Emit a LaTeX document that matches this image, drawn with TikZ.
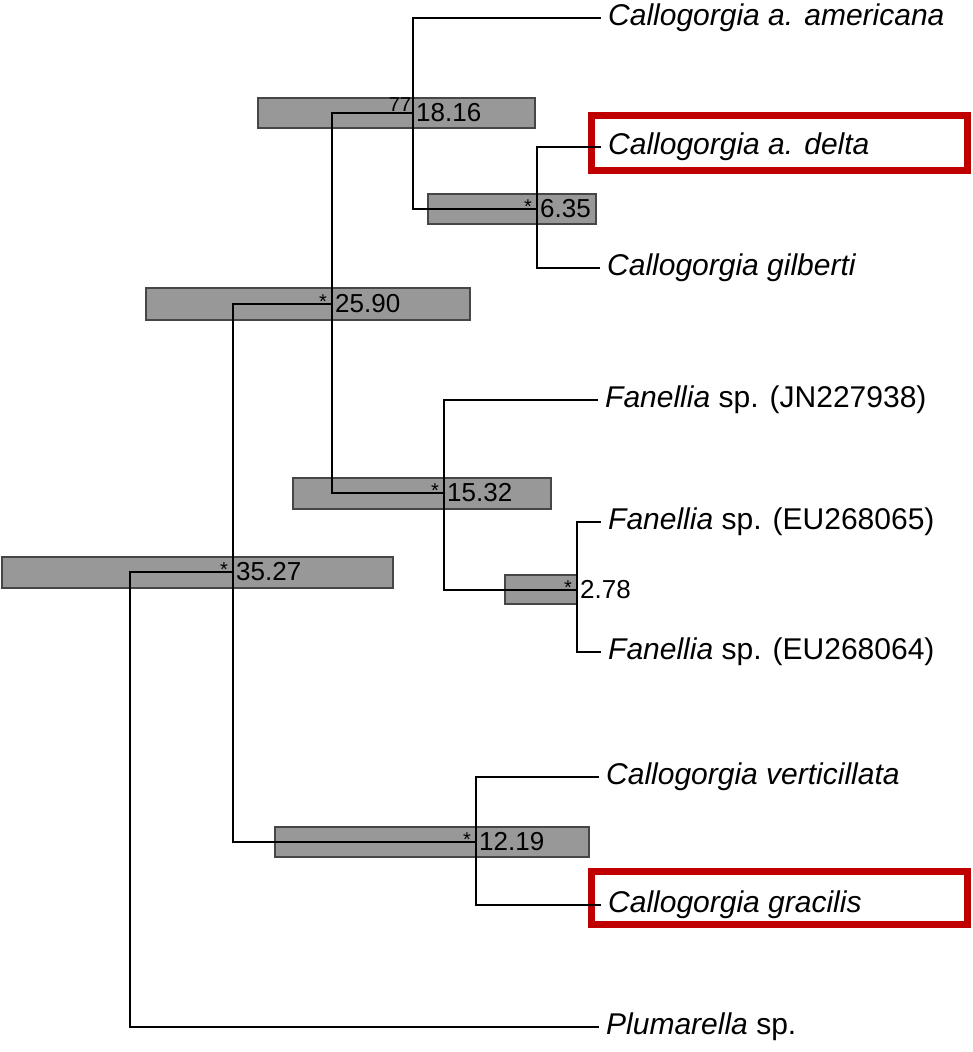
\documentclass[tikz,border=0pt]{standalone}
\usepackage{fontspec}
\setmainfont{Liberation Sans}
\definecolor{barfill}{RGB}{152,152,152}
\definecolor{barline}{RGB}{70,70,70}
\definecolor{boxred}{RGB}{192,0,0}
\begin{document}
\begin{tikzpicture}[x=1pt,y=-1pt,
  branch/.style={line width=2.8pt,line cap=rect},
  hpd/.style={fill=barfill,draw=barline,line width=1.2pt},
  hilite/.style={draw=boxred,line width=7pt},
  leaf/.style={anchor=west,inner ysep=0pt,inner xsep=8pt,font=\fontsize{30}{34}\selectfont},
  age/.style={anchor=west,inner sep=0pt,xshift=3pt,font=\fontsize{26}{30}\selectfont},
  supp/.style={inner sep=0pt,font=\fontsize{20}{22}\selectfont}]
\useasboundingbox (0,0) rectangle (973,1052);
% node positions
\coordinate (root) at (130,572);
\coordinate (n3527) at (233,572);
\coordinate (n2590) at (332,304);
\coordinate (n1816) at (413,113);
\coordinate (n635) at (537,209);
\coordinate (n1532) at (444,493);
\coordinate (n278) at (577,590);
\coordinate (n1219) at (476,842);
% HPD bars
\draw[hpd] (258,98) rectangle (535,128);
\draw[hpd] (428,194) rectangle (596,224);
\draw[hpd] (146,288) rectangle (470,320);
\draw[hpd] (293,478) rectangle (551,509);
\draw[hpd] (2,557) rectangle (393,588);
\draw[hpd] (505,575) rectangle (577,604);
\draw[hpd] (275,827) rectangle (589,857);
% leaves
\node[leaf] (amer) at (600,18) {\textit{Callogorgia a. americana}};
\node[leaf] (delta) at (600,147) {\textit{Callogorgia a. delta}};
\node[leaf] (gilb) at (599,268) {\textit{Callogorgia gilberti}};
\node[leaf] (jn) at (597,400) {\textit{Fanellia} sp. (JN227938)};
\node[leaf] (eu65) at (600,522) {\textit{Fanellia} sp. (EU268065)};
\node[leaf] (eu64) at (600,652) {\textit{Fanellia} sp. (EU268064)};
\node[leaf] (vert) at (598,777) {\textit{Callogorgia verticillata}};
\node[leaf] (grac) at (600,905) {\textit{Callogorgia gracilis}};
\node[leaf] (plum) at (598,1027) {\textit{Plumarella} sp.};
% highlight boxes
\draw[hilite] (591.5,115.5) rectangle (967.5,170.5);
\draw[hilite] (591.5,871.5) rectangle (967.5,924.5);
% branches
\draw[branch] (n3527) -| (root) |- (plum.west);
\draw[branch] (n2590) -| (n3527) |- (n1219);
\draw[branch] (n1816) -| (n2590) |- (n1532);
\draw[branch] (amer.west) -| (n1816) |- (n635);
\draw[branch] (delta.west) -| (n635) |- (gilb.west);
\draw[branch] (jn.west) -| (n1532) |- (n278);
\draw[branch] (eu65.west) -| (n278) |- (eu64.west);
\draw[branch] (vert.west) -| (n1219) |- (grac.west);
% ages
\node[age] (a1816) at (n1816) {18.16};
\node[age] (a635) at (n635) {6.35};
\node[age] (a2590) at (n2590) {25.90};
\node[age] (a1532) at (n1532) {15.32};
\node[age] (a3527) at (n3527) {35.27};
\node[age] (a278) at (n278) {2.78};
\node[age] (a1219) at (n1219) {12.19};
% support
\node[supp] (s1816) at ([shift={(-13,-8)}]n1816) {77};
\node[supp] (s635) at ([shift={(-9,-2)}]n635) {*};
\node[supp] (s2590) at ([shift={(-9,-2)}]n2590) {*};
\node[supp] (s1532) at ([shift={(-9,-2)}]n1532) {*};
\node[supp] (s3527) at ([shift={(-9,-2)}]n3527) {*};
\node[supp] (s278) at ([shift={(-9,-2)}]n278) {*};
\node[supp] (s1219) at ([shift={(-9,-2)}]n1219) {*};
\end{tikzpicture}
\end{document}
